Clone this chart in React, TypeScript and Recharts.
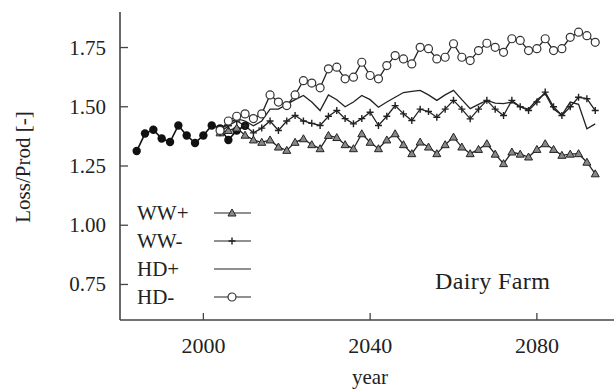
import React from 'react';
import { LineChart, Line, XAxis, YAxis } from 'recharts';

// Observed ratio, every second year
const OBS_YEARS = [1984, 1986, 1988, 1990, 1992, 1994, 1996, 1998, 2000, 2002, 2004, 2006, 2008, 2010];
const OBS = [1.313, 1.387, 1.403, 1.366, 1.351, 1.421, 1.379, 1.347, 1.379, 1.421, 1.409, 1.36, 1.4, 1.42];

// Scenario runs
const SCEN_YEARS = [
  2004, 2006, 2008, 2010, 2012, 2014, 2016, 2018, 2020, 2022, 2024, 2026, 2028, 2030, 2032, 2034,
  2036, 2038, 2040, 2042, 2044, 2046, 2048, 2050, 2052, 2054, 2056, 2058, 2060, 2062, 2064, 2066,
  2068, 2070, 2072, 2074, 2076, 2078, 2080, 2082, 2084, 2086, 2088, 2090, 2092, 2094,
];
const WW_PLUS = [
  1.39, 1.4, 1.41, 1.38, 1.36, 1.35, 1.36, 1.33, 1.316, 1.35, 1.365, 1.34, 1.323, 1.379, 1.37, 1.34,
  1.323, 1.386, 1.35, 1.323, 1.36, 1.386, 1.34, 1.302, 1.351, 1.33, 1.302, 1.34, 1.372, 1.33, 1.302, 1.32,
  1.344, 1.3, 1.26, 1.309, 1.3, 1.288, 1.32, 1.344, 1.32, 1.295, 1.3, 1.302, 1.266, 1.217,
];
const WW_MINUS = [
  1.39, 1.42, 1.44, 1.42, 1.39, 1.41, 1.44, 1.4, 1.44, 1.463, 1.44, 1.43, 1.421, 1.46, 1.484, 1.45,
  1.428, 1.45, 1.477, 1.421, 1.46, 1.505, 1.47, 1.442, 1.49, 1.48, 1.456, 1.49, 1.527, 1.49, 1.449, 1.49,
  1.527, 1.49, 1.463, 1.527, 1.5, 1.484, 1.52, 1.562, 1.5, 1.463, 1.5, 1.54, 1.534, 1.484,
];
const HD_PLUS = [
  1.4, 1.43, 1.45, 1.44, 1.42, 1.44, 1.49, 1.49, 1.51, 1.53, 1.548, 1.52, 1.484, 1.55, 1.53, 1.5,
  1.52, 1.548, 1.53, 1.498, 1.52, 1.54, 1.56, 1.565, 1.569, 1.55, 1.527, 1.55, 1.569, 1.53, 1.492, 1.51,
  1.527, 1.515, 1.513, 1.52, 1.5, 1.49, 1.53, 1.555, 1.49, 1.465, 1.52, 1.51, 1.407, 1.428,
];
const HD_MINUS = [
  1.4, 1.44, 1.46, 1.47, 1.45, 1.47, 1.55, 1.52, 1.505, 1.55, 1.61, 1.6, 1.58, 1.66, 1.667, 1.618,
  1.625, 1.688, 1.632, 1.618, 1.674, 1.716, 1.702, 1.681, 1.751, 1.745, 1.702, 1.709, 1.766, 1.709, 1.695, 1.737,
  1.768, 1.751, 1.73, 1.787, 1.78, 1.737, 1.745, 1.787, 1.737, 1.745, 1.793, 1.815, 1.8, 1.772,
];

const X_TICKS = [2000, 2040, 2080];
const Y_TICKS = [0.75, 1.0, 1.25, 1.5, 1.75];

type Row = { year: number; [k: string]: number };

const table: Row[] = (() => {
  const rows = new Map<number, Row>();
  const put = (y: number, k: string, v: number) => {
    const r = rows.get(y) ?? { year: y };
    r[k] = v;
    rows.set(y, r);
  };
  OBS_YEARS.forEach((y, i) => put(y, 'obs', OBS[i]));
  SCEN_YEARS.forEach((y, i) => {
    put(y, 'WW+', WW_PLUS[i]);
    put(y, 'WW-', WW_MINUS[i]);
    put(y, 'HD+', HD_PLUS[i]);
    put(y, 'HD-', HD_MINUS[i]);
  });
  return [...rows.values()].sort((a, b) => a.year - b.year);
})();

const FONT = '"Liberation Serif", "Times New Roman", serif';
const INK = '#222';

type Marker = 'tri' | 'plus' | 'none' | 'circle' | 'disc';

function MarkerShape({ kind, cx, cy }: { kind: Marker; cx: number; cy: number }) {
  switch (kind) {
    case 'tri':
      return (
        <path
          d={`M${cx},${cy - 4} L${cx + 4},${cy + 3} L${cx - 4},${cy + 3} Z`}
          fill="#888"
          stroke={INK}
          strokeWidth={1}
        />
      );
    case 'plus':
      return (
        <path
          d={`M${cx - 3.5},${cy} H${cx + 3.5} M${cx},${cy - 3.5} V${cy + 3.5}`}
          stroke={INK}
          strokeWidth={1.4}
        />
      );
    case 'circle':
      return <circle cx={cx} cy={cy} r={4} fill="#fff" stroke="#333" strokeWidth={1.2} />;
    case 'disc':
      return <circle cx={cx} cy={cy} r={4.2} fill="#111" />;
    default:
      return null;
  }
}

const dotFor = (kind: Marker) => (p: any) => {
  if (p.cx == null || p.cy == null || p.value == null) return <g key={`${kind}-${p.index}`} />;
  return (
    <g key={`${kind}-${p.index}`}>
      <MarkerShape kind={kind} cx={p.cx} cy={p.cy} />
    </g>
  );
};

const SERIES: { key: string; marker: Marker }[] = [
  { key: 'WW+', marker: 'tri' },
  { key: 'WW-', marker: 'plus' },
  { key: 'HD+', marker: 'none' },
  { key: 'HD-', marker: 'circle' },
];

// ticks point inwards, labels sit outside the axis
function YTick({ x, y, payload }: any) {
  return (
    <g>
      <line x1={x} x2={x + 8} y1={y} y2={y} stroke="#444" strokeWidth={1.3} />
      <text x={x - 14} y={y} dy={7} textAnchor="end" fontFamily={FONT} fontSize={21} fill={INK}>
        {payload.value.toFixed(2)}
      </text>
    </g>
  );
}

function XTick({ x, y, payload }: any) {
  return (
    <g>
      <line x1={x} x2={x} y1={y} y2={y - 7} stroke="#444" strokeWidth={1.3} />
      <text x={x} y={y + 33} textAnchor="middle" fontFamily={FONT} fontSize={22} fill={INK}>
        {payload.value}
      </text>
    </g>
  );
}

// Key in the lower-left corner of the plot
function LegendBox() {
  return (
    <div
      style={{
        position: 'absolute',
        left: 137,
        top: 199,
        fontFamily: FONT,
        fontSize: 21,
        color: INK,
        lineHeight: '28px',
      }}
    >
      {SERIES.map((s) => (
        <div key={s.key} style={{ display: 'flex', alignItems: 'center', height: 28 }}>
          <span style={{ width: 76 }}>{s.key}</span>
          <svg width={40} height={14}>
            <line x1={1} x2={38} y1={7} y2={7} stroke={INK} strokeWidth={1.2} />
            <MarkerShape kind={s.marker} cx={19} cy={7} />
          </svg>
        </div>
      ))}
    </div>
  );
}

export default function App() {
  return (
    <div style={{ position: 'absolute', left: 0, top: 0, width: 614, height: 391, background: '#fff' }}>
      <LineChart width={614} height={391} data={table} margin={{ top: 12, right: 0, bottom: 0, left: 0 }}>
        <XAxis
          dataKey="year"
          type="number"
          domain={[1980, 2098.5]}
          ticks={X_TICKS}
          tickSize={0}
          tickMargin={0}
          tick={<XTick />}
          height={71}
          axisLine={{ stroke: '#444', strokeWidth: 1.6 }}
          allowDataOverflow
        />
        <YAxis
          type="number"
          domain={[0.6, 1.9]}
          ticks={Y_TICKS}
          tickSize={0}
          tickMargin={0}
          tick={<YTick />}
          width={120}
          axisLine={{ stroke: '#444', strokeWidth: 1.6 }}
          allowDataOverflow
        />
        <Line
          dataKey="obs"
          stroke="#111"
          strokeWidth={1.6}
          dot={dotFor('disc')}
          isAnimationActive={false}
        />
        {SERIES.map((s) => (
          <Line
            key={s.key}
            dataKey={s.key}
            name={s.key}
            stroke={INK}
            strokeWidth={1.3}
            dot={s.marker === 'none' ? false : dotFor(s.marker)}
            isAnimationActive={false}
          />
        ))}
      </LineChart>
      <LegendBox />
      <div
        style={{
          position: 'absolute',
          left: 435,
          top: 268,
          fontFamily: FONT,
          fontSize: 24,
          letterSpacing: 0.4,
          color: INK,
          whiteSpace: 'nowrap',
        }}
      >
        Dairy Farm
      </div>
      <div
        style={{
          position: 'absolute',
          left: 23,
          top: 167,
          transform: 'translate(-50%, -50%) rotate(-90deg)',
          fontFamily: FONT,
          fontSize: 21,
          color: INK,
          whiteSpace: 'nowrap',
        }}
      >
        Loss/Prod [-]
      </div>
      <div
        style={{
          position: 'absolute',
          left: 370,
          top: 377,
          transform: 'translate(-50%, -50%)',
          fontFamily: FONT,
          fontSize: 21,
          lineHeight: '24px',
          color: INK,
        }}
      >
        year
      </div>
    </div>
  );
}
